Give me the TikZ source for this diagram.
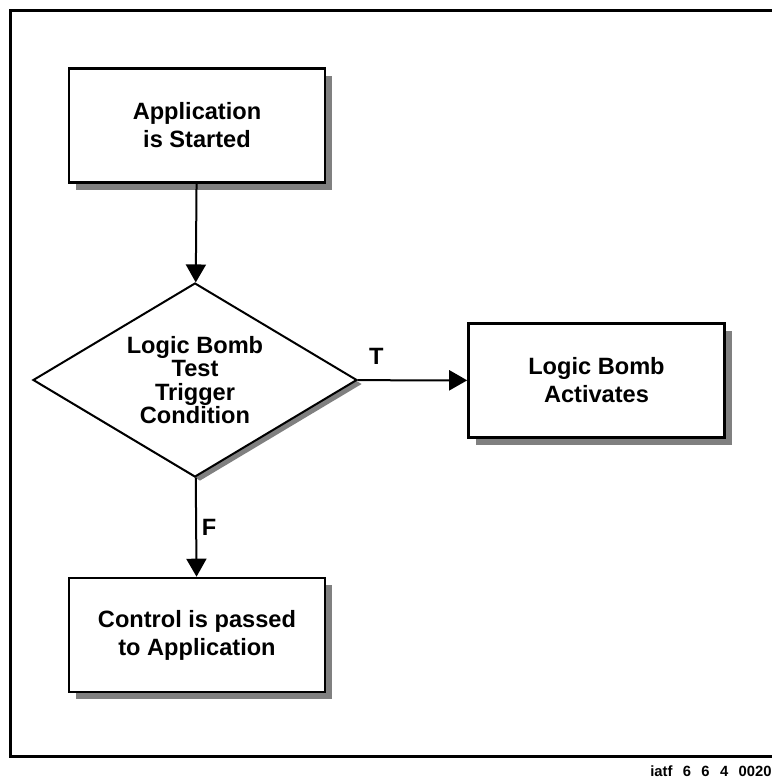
\documentclass[tikz,border=0pt]{standalone}
\usepackage{fontspec}
\setmainfont{Liberation Sans}
\usetikzlibrary{shapes.geometric,shadows,arrows.meta}
\definecolor{shadowgray}{RGB}{128,128,128}
\begin{document}
\begin{tikzpicture}[x=0.5pt,y=-0.5pt,>={Triangle[length=9pt,width=10pt]},line join=miter,
  boxtext/.style={font=\bfseries\fontsize{11.8}{14}\selectfont},
  flowbox/.style={boxtext,draw,line width=1.3pt,fill=white,align=center,
    minimum width=128pt,minimum height=57pt,
    drop shadow={shadow xshift=3.5pt,shadow yshift=-3.5pt,fill=shadowgray,opacity=1}},
  decision/.style={diamond,aspect=1.67,draw,line width=1pt,fill=white,align=center,inner sep=0pt,
    minimum width=162pt,minimum height=97pt,font=\bfseries\fontsize{11.8}{11.7}\selectfont,
    drop shadow={shadow xshift=2.5pt,shadow yshift=-2pt,fill=shadowgray,opacity=1}},
  flowline/.style={->,line width=1pt}]
  \useasboundingbox (0,0) rectangle (772,778);

  % Frame, open on the right as in the scan.
  \draw[line width=1.5pt] (772,10) -- (10,10) -- (10,756) -- (772,756);

  % Flow chart.
  \node[flowbox] (started) at (197,125.5) {Application\\is Started};
  \node[decision] (trigger) at (195,380) {Logic Bomb\\Test\\Trigger\\Condition};
  \node[flowbox] (activates) at (596.5,380.5) {Logic Bomb\\Activates};
  \node[flowbox] (passed) at (197,635) {Control is passed\\to Application};

  \draw[flowline] (started) -- (trigger);
  \draw[flowline] (trigger) -- node[boxtext,pos=0.17,yshift=12pt] {T} (activates);
  \draw[flowline] (trigger) -- node[boxtext,pos=0.5,xshift=6.5pt] {F} (passed);

  % Figure tag.
  \node[anchor=east,inner sep=0pt,font=\bfseries\fontsize{7.4}{8}\selectfont] (tag) at (772,771)
    {\spaceskip=0.7em iatf 6 6 4 0020};
\end{tikzpicture}
\end{document}
